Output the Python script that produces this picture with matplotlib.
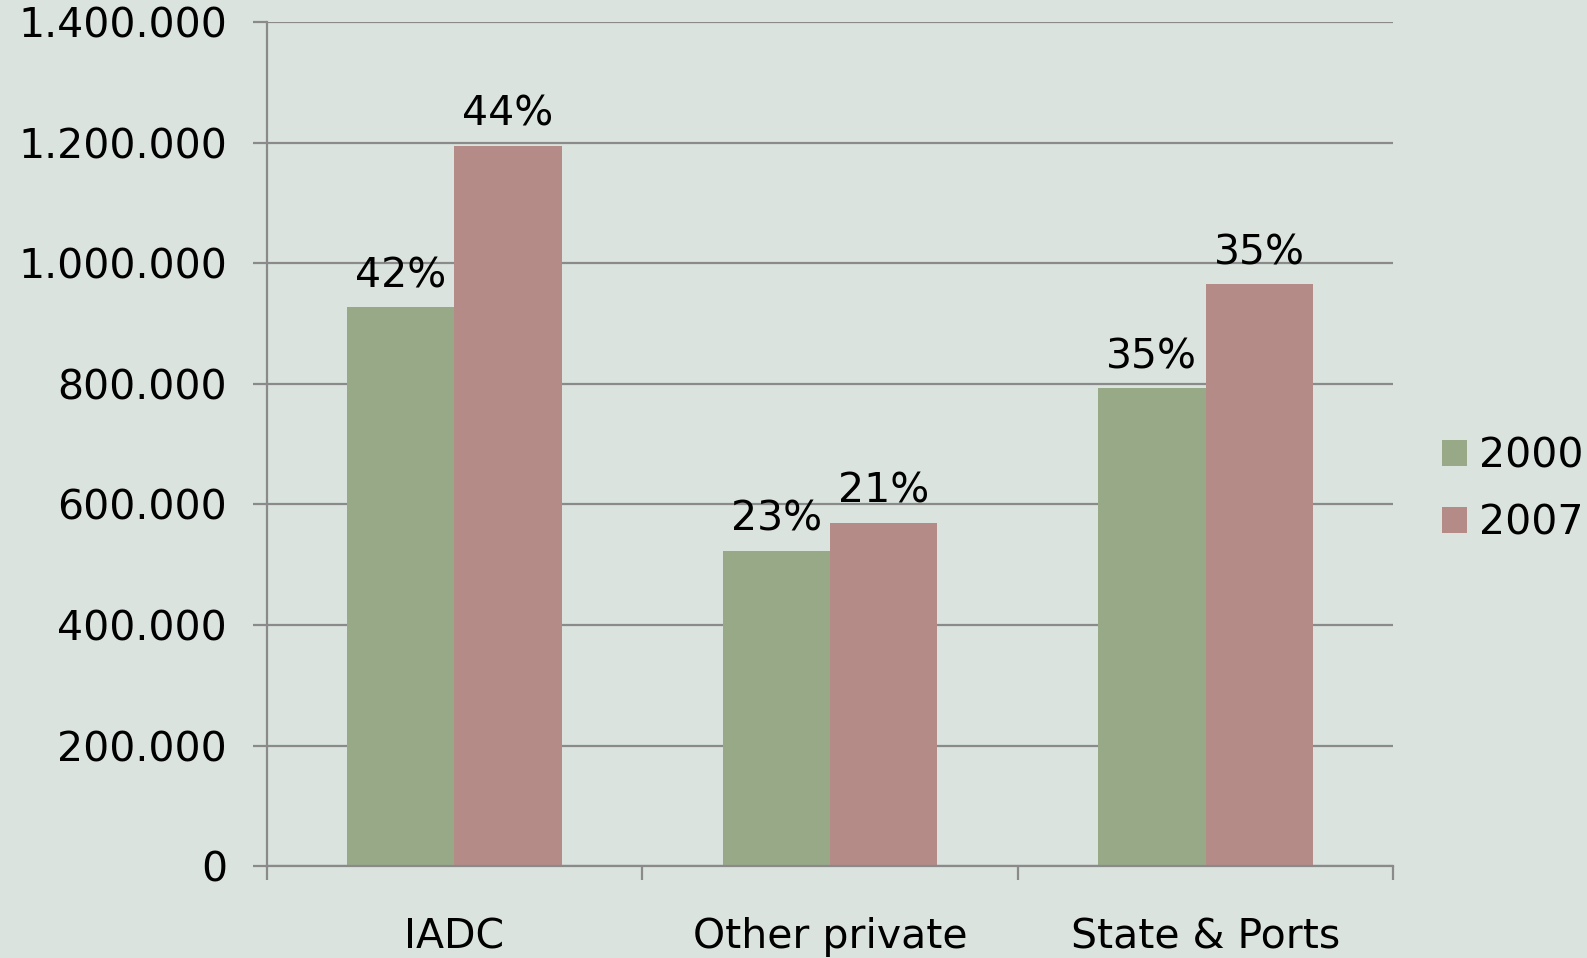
import matplotlib
matplotlib.use("Agg")
import matplotlib.pyplot as plt
import numpy as np
from matplotlib.ticker import FuncFormatter, FixedLocator

categories = ["IADC", "Other private", "State & Ports"]
series_names = ["2000", "2007"]
values_2000 = [927000, 523000, 793000]
values_2007 = [1195000, 570000, 965000]
labels_2000 = ["42%", "23%", "35%"]
labels_2007 = ["44%", "21%", "35%"]
yticks = [0, 200000, 400000, 600000, 800000, 1000000, 1200000, 1400000]

BG = "#dae3de"
GREEN = "#98a987"
RED = "#b58b88"
GRID = "#8a8a8a"
FS = 29.5

plt.rcParams['font.family'] = ['DejaVu Sans']

fig = plt.figure(figsize=(15.87, 9.58), dpi=100, facecolor=BG)
ax = fig.add_axes([0.168, 0.096, 0.878 - 0.168, 0.9767 - 0.096])
ax.set_facecolor(BG)

x = np.arange(len(categories))
width = 1 / 3.5
b1 = ax.bar(x - width / 2, values_2000, width, color=GREEN, label=series_names[0], zorder=3)
b2 = ax.bar(x + width / 2, values_2007, width, color=RED, label=series_names[1], zorder=3)

for bars, labs in ((b1, labels_2000), (b2, labels_2007)):
    for rect, lab in zip(bars, labs):
        ax.annotate(lab, (rect.get_x() + rect.get_width() / 2, rect.get_height()),
                    xytext=(0, 8), textcoords="offset points",
                    ha="center", va="bottom", fontsize=FS, color="black", zorder=4)

ax.set_xlim(-0.5, len(categories) - 0.5)
ax.set_ylim(0, 1400000)
ax.set_yticks(yticks)
ax.yaxis.set_major_formatter(FuncFormatter(lambda v, p: f"{int(v):,}".replace(",", ".")))
ax.yaxis.grid(True, color=GRID, linewidth=1.6, zorder=1)
ax.set_axisbelow(True)

ax.set_xticks(x)
ax.set_xticklabels(categories)
ax.xaxis.set_minor_locator(FixedLocator(np.arange(-0.5, len(categories), 1.0)))
ax.tick_params(axis="x", which="major", length=0, pad=37, labelsize=FS)
ax.tick_params(axis="x", which="minor", length=10, width=1.6, color=GRID, direction="out")
ax.tick_params(axis="y", which="major", length=10, width=1.6, color=GRID, pad=18.5, labelsize=FS)

for s in ("top", "right"):
    ax.spines[s].set_visible(False)
for s in ("left", "bottom"):
    ax.spines[s].set_color(GRID)
    ax.spines[s].set_linewidth(1.6)
    ax.spines[s].set_zorder(5)

fig.legend(handles=[b1, b2], labels=series_names, loc="center left",
           bbox_to_anchor=(1442 / 1587, 1 - 490 / 958), frameon=False,
           fontsize=FS, handlelength=0.6, handleheight=0.6,
           handletextpad=0.3, borderpad=0, borderaxespad=0, labelspacing=0.68)

fig.savefig("out.png", dpi=100, facecolor=BG)
